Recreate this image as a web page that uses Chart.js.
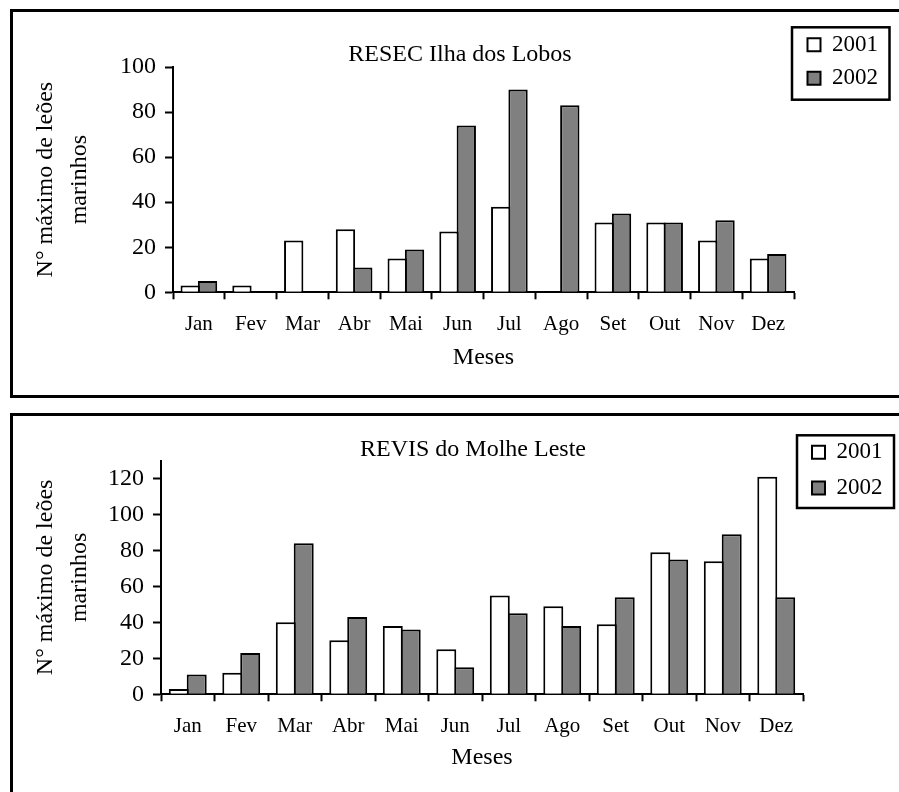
<!DOCTYPE html>
<html>
<head>
<meta charset="utf-8">
<script src="https://cdn.jsdelivr.net/npm/chart.js@4.4.1/dist/chart.umd.min.js"></script>
<style>
  html, body { margin: 0; padding: 0; background: #fff; width: 899px; height: 792px; overflow: hidden; }
  canvas { position: absolute; left: 0; display: block; }
  #c1 { top: 0; }
  #c2 { top: 400px; }
  .frame { position: absolute; border: 3px solid #000; box-sizing: border-box; pointer-events: none; }
  #f1 { left: 10px; top: 9px; width: 1000px; height: 389px; }
  #f2 { left: 10px; top: 413px; width: 1000px; height: 500px; }
</style>
</head>
<body>
<canvas id="c1" width="899" height="400"></canvas>
<canvas id="c2" width="899" height="392"></canvas>
<div class="frame" id="f1"></div>
<div class="frame" id="f2"></div>
<script>
// Months and years
const meses = ['Jan', 'Fev', 'Mar', 'Abr', 'Mai', 'Jun', 'Jul', 'Ago', 'Set', 'Out', 'Nov', 'Dez'];
const anos = ['2001', '2002'];

// RESEC Ilha dos Lobos: maximum count per month
const lobos2001 = [3, 3, 23, 28, 15, 27, 38, 0, 31, 31, 23, 15];
const lobos2002 = [5, 0, 0, 11, 19, 74, 90, 83, 35, 31, 32, 17];
const ticksLobos = [0, 20, 40, 60, 80, 100];

// REVIS do Molhe Leste: maximum count per month
const molhe2001 = [3, 12, 40, 30, 38, 25, 55, 49, 39, 79, 74, 121];
const molhe2002 = [11, 23, 84, 43, 36, 15, 45, 38, 54, 75, 89, 54];
const ticksMolhe = [0, 20, 40, 60, 80, 100, 120];

const tituloY = ['N\u00B0 m\u00E1ximo de le\u00F5es', 'marinhos'];
const tituloX = 'Meses';

const SERIF = "'Liberation Serif', 'Times New Roman', Times, serif";
Chart.defaults.font.family = SERIF;
Chart.defaults.color = '#000';

// Puts the title and the legend at fixed spots and draws a box around the legend
const panelLayout = {
  id: 'panelLayout',
  beforeDraw(chart, args, o) {
    const tb = chart.titleBlock;
    if (tb) {
      tb.left = o.titleX - 250;
      tb.right = o.titleX + 250;
    }
    const lg = chart.legend;
    if (lg) {
      const pad = lg.options.labels.padding;
      lg.left = o.itemX - pad;
      lg.top = o.itemY - pad;
      lg.width = o.w;
      lg.height = o.h + 60;
      lg.right = lg.left + lg.width;
      lg.bottom = lg.top + lg.height;
    }
  },
  afterDraw(chart, args, o) {
    const ctx = chart.ctx;
    ctx.save();
    ctx.lineWidth = 2.5;
    ctx.strokeStyle = '#000';
    ctx.strokeRect(o.x, o.y, o.w, o.h);
    ctx.restore();
  }
};

function axisGrid(len) {
  return { drawOnChartArea: false, drawTicks: true, tickLength: len, tickWidth: 2, color: '#000', tickColor: '#000' };
}

function makeChart(id, c) {
  return new Chart(document.getElementById(id), {
    type: 'bar',
    data: {
      labels: meses,
      datasets: [
        { label: anos[0], data: c.v1, backgroundColor: '#ffffff', borderColor: '#000', borderWidth: 2, borderSkipped: 'start',
          categoryPercentage: 0.67, barPercentage: 1.115 },
        { label: anos[1], data: c.v2, backgroundColor: '#808080', borderColor: '#000', borderWidth: 2, borderSkipped: 'start',
          categoryPercentage: 0.67, barPercentage: 1.115 }
      ]
    },
    options: {
      responsive: false,
      animation: false,
      devicePixelRatio: 1,
      events: [],
      layout: { padding: c.pad },
      plugins: {
        title: {
          display: true, text: c.title, color: '#000',
          font: { family: SERIF, size: 24, weight: 'normal', lineHeight: 0.9 },
          padding: { top: c.titleTop, bottom: c.titleBottom }
        },
        legend: {
          display: true, position: 'chartArea', fullSize: false, align: 'start',
          labels: { color: '#000', font: { family: SERIF, size: 23 }, boxWidth: 13, boxHeight: 13, padding: c.legend.gap }
        },
        tooltip: { enabled: false },
        panelLayout: c.legend
      },
      scales: {
        x: {
          offset: true,
          grid: Object.assign(axisGrid(7), { offset: true }),
          border: { display: true, color: '#000', width: 2 },
          ticks: { color: '#000', font: { family: SERIF, size: 21 }, padding: 12.5, maxRotation: 0, autoSkip: false },
          title: { display: true, text: tituloX, color: '#000', font: { family: SERIF, size: 24, lineHeight: 1.2 }, padding: { top: 0, bottom: 0 } },
          afterFit(s) { s.height = c.xH; }
        },
        y: {
          min: 0, max: c.max,
          afterBuildTicks(s) { s.ticks = c.ticks.map(v => ({ value: v })); },
          grid: axisGrid(8),
          border: { display: true, color: '#000', width: 2 },
          ticks: { color: '#000', font: { family: SERIF, size: 24 }, padding: 9 },
          title: { display: true, text: tituloY, color: '#000', font: { family: SERIF, size: 24, lineHeight: 1.417 }, padding: { top: 16, bottom: 0 } },
          afterFit(s) { s.width = c.yW; }
        }
      }
    },
    plugins: [panelLayout]
  });
}

makeChart('c1', {
  title: 'RESEC Ilha dos Lobos',
  v1: lobos2001, v2: lobos2002, ticks: ticksLobos, max: 100,
  pad: { left: 13, right: 105, top: 12, bottom: 27.6 },
  titleTop: 32.2, titleBottom: 1.2,
  yW: 160, xH: 80.1,
  legend: { titleX: 460, x: 792, y: 27.3, w: 97.5, h: 72.4, itemX: 807.5, itemY: 33.2, gap: 10.6 }
});

makeChart('c2', {
  title: 'REVIS do Molhe Leste',
  v1: molhe2001, v2: molhe2002, ticks: ticksMolhe, max: 130,
  pad: { left: 13, right: 96, top: 12, bottom: 19.6 },
  titleTop: 26.7, titleBottom: 0.2,
  yW: 148, xH: 78.1,
  legend: { titleX: 473, x: 797, y: 35.3, w: 97, h: 72.7, itemX: 812, itemY: 40.7, gap: 12.8 }
});
</script>
</body>
</html>
